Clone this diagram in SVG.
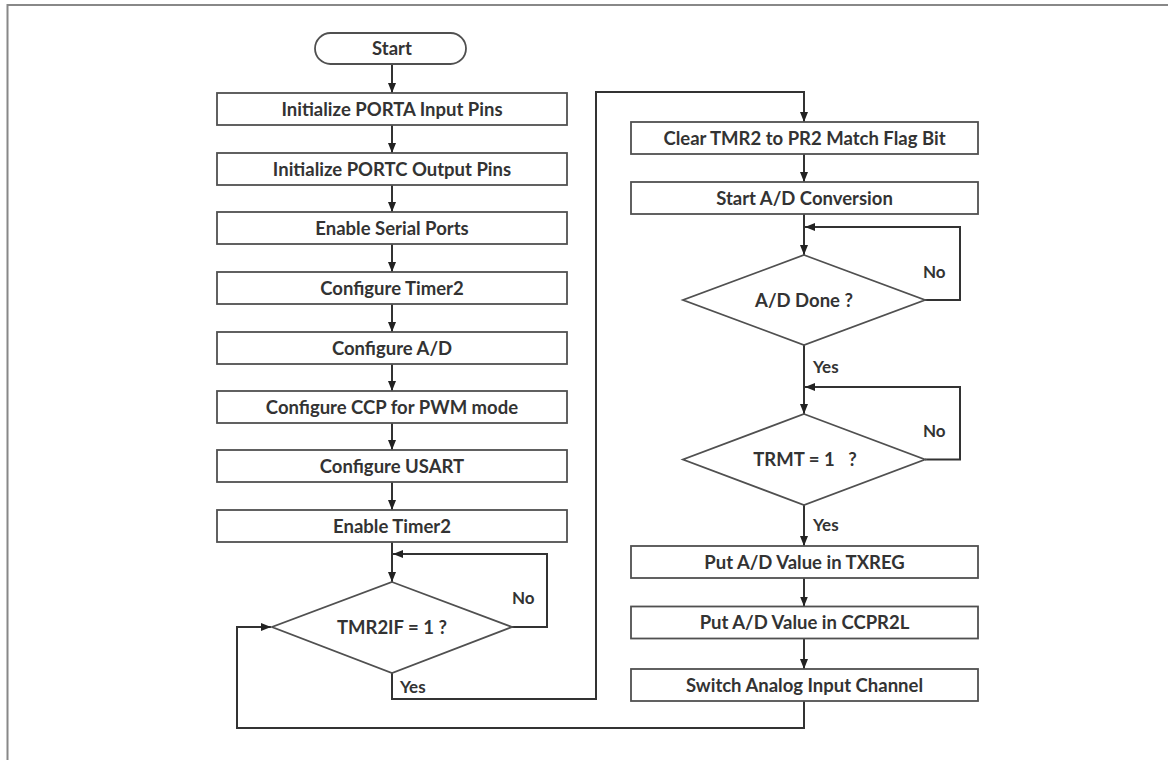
<svg xmlns="http://www.w3.org/2000/svg" width="1168" height="760" viewBox="0 0 1168 760">
<defs>
<style>
.box{fill:#fff;stroke:#505050;stroke-width:1.8}
.t{font-family:Lato,"Liberation Sans",sans-serif;font-weight:bold;font-size:18.5px;fill:#333;text-anchor:middle}
.lbl{font-family:Lato,"Liberation Sans",sans-serif;font-weight:bold;font-size:17px;fill:#333}
.c{fill:none;stroke:#333;stroke-width:2}
.frame{fill:none;stroke:#888;stroke-width:2}
</style>
<marker id="ah" markerUnits="userSpaceOnUse" markerWidth="10" markerHeight="10" viewBox="0 0 10 10" refX="10" refY="5" orient="auto">
<path d="M0,1 L10,5 L0,9 Z" fill="#222"/>
</marker>
</defs>
<rect width="1168" height="760" fill="#fff"/>
<path class="frame" d="M7.5,760 V5 H1168"/>

<g id="connectors">
<path class="c" marker-end="url(#ah)" d="M392,64 V93"/>
<path class="c" marker-end="url(#ah)" d="M392,125 V153"/>
<path class="c" marker-end="url(#ah)" d="M392,185 V212"/>
<path class="c" marker-end="url(#ah)" d="M392,244 V272"/>
<path class="c" marker-end="url(#ah)" d="M392,304 V332"/>
<path class="c" marker-end="url(#ah)" d="M392,364 V391"/>
<path class="c" marker-end="url(#ah)" d="M392,423 V450"/>
<path class="c" marker-end="url(#ah)" d="M392,482 V510"/>
<path class="c" marker-end="url(#ah)" d="M392,542 V582"/>
<path class="c" marker-end="url(#ah)" d="M512,627 H547 V554 H393"/>
<path class="c" marker-end="url(#ah)" d="M392,673 V699 H596 V92 H804 V122"/>
<path class="c" marker-end="url(#ah)" d="M804,154 V182"/>
<path class="c" marker-end="url(#ah)" d="M804,214 V255"/>
<path class="c" marker-end="url(#ah)" d="M925,300 H960 V227 H805"/>
<path class="c" marker-end="url(#ah)" d="M804,345 V414"/>
<path class="c" marker-end="url(#ah)" d="M925,459.5 H960 V387 H805"/>
<path class="c" marker-end="url(#ah)" d="M804,505 V546"/>
<path class="c" marker-end="url(#ah)" d="M804,578 V606.5"/>
<path class="c" marker-end="url(#ah)" d="M804,638.5 V669"/>
<path class="c" marker-end="url(#ah)" d="M804,701 V728 H237 V627 H271"/>
</g>

<g id="n-start"><rect class="box" x="315" y="33" width="151" height="31" rx="15.5"/><text class="t" x="392" y="55">Start</text></g>
<g id="n-porta"><rect class="box" x="217" y="93" width="350" height="32"/><text class="t" x="392" y="115.5">Initialize PORTA Input Pins</text></g>
<g id="n-portc"><rect class="box" x="217" y="153" width="350" height="32"/><text class="t" x="392" y="175.5">Initialize PORTC Output Pins</text></g>
<g id="n-serial"><rect class="box" x="217" y="212" width="350" height="32"/><text class="t" x="392" y="234.5">Enable Serial Ports</text></g>
<g id="n-timer2"><rect class="box" x="217" y="272" width="350" height="32"/><text class="t" x="392" y="294.5">Configure Timer2</text></g>
<g id="n-ad"><rect class="box" x="217" y="332" width="350" height="32"/><text class="t" x="392" y="354.5">Configure A/D</text></g>
<g id="n-ccp"><rect class="box" x="217" y="391" width="350" height="32"/><text class="t" x="392" y="413.5">Configure CCP for PWM mode</text></g>
<g id="n-usart"><rect class="box" x="217" y="450" width="350" height="32"/><text class="t" x="392" y="472.5">Configure USART</text></g>
<g id="n-entimer2"><rect class="box" x="217" y="510" width="350" height="32"/><text class="t" x="392" y="532.5">Enable Timer2</text></g>
<g id="n-tmr2if"><polygon class="box" points="392,582 512,627 392,673 272,627"/><text class="t" x="392" y="633.5">TMR2IF = 1 ?</text>
<text class="lbl" x="512" y="604">No</text><text class="lbl" x="400" y="693">Yes</text></g>

<g id="n-clear"><rect class="box" x="631" y="122" width="347" height="32"/><text class="t" x="804.5" y="144.5">Clear TMR2 to PR2 Match Flag Bit</text></g>
<g id="n-startad"><rect class="box" x="631" y="182" width="347" height="32"/><text class="t" x="804.5" y="204.5">Start A/D Conversion</text></g>
<g id="n-addone"><polygon class="box" points="804,255 925,300 804,345 683,300"/><text class="t" x="804" y="306.5">A/D Done ?</text>
<text class="lbl" x="923" y="277.5">No</text><text class="lbl" x="813" y="372.5">Yes</text></g>
<g id="n-trmt"><polygon class="box" points="804,414 925,459.5 804,505 683,459.5"/><text class="t" x="805" y="466" xml:space="preserve">TRMT = 1   ?</text>
<text class="lbl" x="923" y="436.5">No</text><text class="lbl" x="813" y="531">Yes</text></g>
<g id="n-txreg"><rect class="box" x="631" y="546" width="347" height="32"/><text class="t" x="804.5" y="568.5">Put A/D Value in TXREG</text></g>
<g id="n-ccpr2l"><rect class="box" x="631" y="606.5" width="347" height="32"/><text class="t" x="804.5" y="629">Put A/D Value in CCPR2L</text></g>
<g id="n-switch"><rect class="box" x="631" y="669" width="347" height="32"/><text class="t" x="804.5" y="691.5">Switch Analog Input Channel</text></g>
</svg>
